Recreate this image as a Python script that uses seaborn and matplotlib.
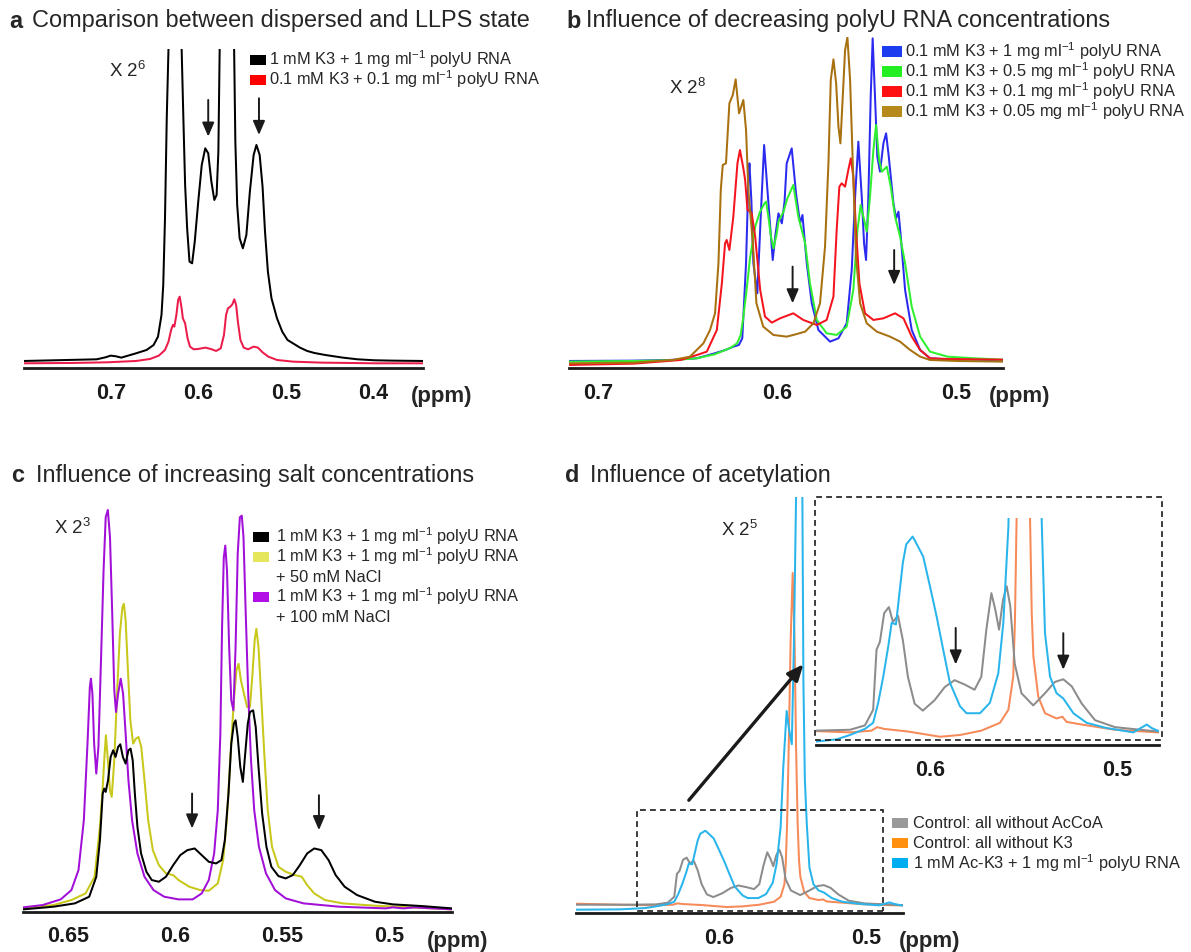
import numpy as np
import matplotlib
matplotlib.use('Agg')
import matplotlib.pyplot as plt
import seaborn as sns
from matplotlib.patches import Rectangle

# spectra: (ppm, intensity a.u.)
a_black = [(0.799, 22), (0.765, 24), (0.716, 27), (0.706, 33), (0.700, 38), (0.694, 36), (0.688, 32), (0.671, 45),
           (0.659, 55), (0.651, 70), (0.646, 95), (0.642, 160), (0.640, 250), (0.638, 450), (0.636, 750), (0.634, 960),
           (0.6265, 3000), (0.619, 960), (0.617, 750), (0.615, 550), (0.6127, 420), (0.610, 320), (0.607, 315),
           (0.604, 380), (0.600, 500), (0.596, 610), (0.592, 660), (0.5886, 645), (0.585, 560), (0.5816, 505),
           (0.579, 520), (0.577, 650), (0.5755, 960), (0.5673, 3000), (0.559, 960), (0.5576, 680), (0.5555, 490),
           (0.5527, 390), (0.549, 360), (0.545, 400), (0.541, 530), (0.5367, 640), (0.5335, 670), (0.5298, 640),
           (0.5265, 545), (0.5237, 410), (0.5204, 290), (0.5163, 210), (0.510, 150), (0.504, 110), (0.498, 85),
           (0.4918, 75), (0.4837, 62), (0.4755, 52), (0.4673, 46), (0.455, 40), (0.4347, 32), (0.418, 27),
           (0.398, 24), (0.3776, 23), (0.343, 22)]
a_red = [(0.799, 15), (0.745, 16), (0.704, 18), (0.671, 22), (0.655, 28), (0.645, 38), (0.638, 55), (0.634, 80),
         (0.631, 115), (0.629, 130), (0.6273, 125), (0.625, 160), (0.623, 205), (0.6212, 215), (0.619, 180),
         (0.6176, 150), (0.615, 135), (0.6122, 90), (0.6094, 65), (0.6053, 57), (0.600, 58), (0.5918, 62),
         (0.5857, 58), (0.5796, 52), (0.5743, 60), (0.5706, 100), (0.5682, 160), (0.566, 180), (0.5633, 185),
         (0.561, 192), (0.5588, 207), (0.5567, 190), (0.5547, 140), (0.5518, 85), (0.548, 62), (0.543, 57),
         (0.5367, 65), (0.5318, 62), (0.5265, 48), (0.520, 35), (0.510, 25), (0.4918, 20), (0.459, 17),
         (0.398, 15), (0.343, 15)]

b_blue = [(0.7164, 22), (0.68, 23), (0.66, 25), (0.645, 30), (0.635, 45), (0.629, 55), (0.6245, 65), (0.6215, 70),
          (0.6196, 90), (0.6175, 315), (0.6162, 565), (0.6156, 615), (0.6145, 500), (0.6134, 315), (0.6112, 225),
          (0.6093, 455), (0.6074, 670), (0.605, 495), (0.6026, 325), (0.6011, 400), (0.5994, 465), (0.5975, 435),
          (0.596, 500), (0.5948, 615), (0.592, 660), (0.5895, 520), (0.5873, 435), (0.586, 460), (0.5836, 315),
          (0.5808, 195), (0.5771, 115), (0.5706, 80), (0.5659, 90), (0.5613, 135), (0.5585, 295), (0.5566, 515),
          (0.5548, 680), (0.5529, 515), (0.5516, 375), (0.5505, 325), (0.5492, 515), (0.5479, 815), (0.5468, 990),
          (0.5455, 815), (0.5442, 635), (0.5427, 590), (0.5408, 675), (0.5393, 705), (0.5378, 635), (0.5352, 495),
          (0.5337, 450), (0.5324, 470), (0.5311, 395), (0.5287, 235), (0.525, 115), (0.5203, 55), (0.5148, 30),
          (0.505, 27), (0.49, 26), (0.4742, 24)]
b_green = [(0.7164, 20), (0.68, 22), (0.66, 24), (0.645, 30), (0.635, 42), (0.629, 55), (0.626, 62), (0.6225, 75),
           (0.6205, 100), (0.6191, 150), (0.6171, 240), (0.6153, 330), (0.6124, 425), (0.6097, 470), (0.6072, 495),
           (0.6063, 500), (0.6049, 450), (0.6036, 395), (0.6022, 360), (0.6005, 400), (0.5994, 440), (0.5966, 470),
           (0.5944, 510), (0.5911, 550), (0.5883, 455), (0.5845, 375), (0.5818, 255), (0.578, 145), (0.5725, 105),
           (0.5669, 100), (0.5613, 125), (0.5576, 235), (0.5553, 415), (0.5535, 490), (0.552, 455), (0.5501, 410),
           (0.5483, 515), (0.5464, 655), (0.5449, 730), (0.5432, 625), (0.5417, 590), (0.5389, 605), (0.5367, 545),
           (0.5343, 455), (0.5315, 395), (0.5287, 315), (0.525, 185), (0.5203, 95), (0.5148, 50), (0.505, 35),
           (0.49, 30), (0.4742, 26)]
b_red = [(0.7164, 10), (0.68, 14), (0.6539, 25), (0.6449, 40), (0.6394, 50), (0.6338, 115), (0.631, 255),
         (0.6292, 375), (0.6283, 385), (0.6268, 355), (0.6246, 455), (0.6223, 615), (0.6209, 655), (0.619, 600),
         (0.618, 565), (0.6167, 475), (0.6144, 467), (0.6124, 395), (0.6096, 235), (0.6069, 155), (0.6031, 137),
         (0.5985, 150), (0.5911, 165), (0.5855, 145), (0.578, 130), (0.5725, 145), (0.5687, 215), (0.5669, 415),
         (0.5654, 545), (0.5641, 555), (0.5622, 545), (0.5604, 595), (0.559, 630), (0.5576, 575), (0.5561, 415),
         (0.5542, 255), (0.5511, 165), (0.5464, 145), (0.5408, 150), (0.5343, 165), (0.5296, 150), (0.525, 95),
         (0.5203, 55), (0.5148, 30), (0.505, 28), (0.49, 27), (0.4742, 26)]
b_brown = [(0.7164, 15), (0.68, 17), (0.6584, 25), (0.6488, 35), (0.6413, 75), (0.6376, 115), (0.6348, 165),
           (0.6329, 315), (0.6316, 535), (0.6305, 610), (0.6287, 615), (0.6268, 795), (0.6249, 820), (0.6233, 867),
           (0.6214, 765), (0.619, 805), (0.6175, 715), (0.6162, 535), (0.6137, 375), (0.6117, 195), (0.6079, 125),
           (0.6022, 100), (0.5948, 95), (0.5911, 100), (0.5845, 110), (0.5799, 135), (0.5762, 195), (0.5734, 365),
           (0.5715, 615), (0.5702, 865), (0.5687, 927), (0.5672, 855), (0.5659, 725), (0.5648, 675), (0.5635, 815),
           (0.5622, 955), (0.5609, 993), (0.5594, 865), (0.5579, 615), (0.5561, 335), (0.5538, 195), (0.5501, 135),
           (0.5445, 110), (0.5371, 95), (0.5315, 80), (0.5259, 55), (0.5203, 35), (0.5148, 25), (0.50, 22),
           (0.4742, 20)]

c_black = [(0.6708, 7), (0.6567, 15), (0.6467, 25), (0.64, 45), (0.6367, 105), (0.635, 215), (0.6337, 355),
           (0.633, 370), (0.6323, 360), (0.6312, 395), (0.630, 465), (0.6288, 485), (0.6277, 465), (0.6265, 495),
           (0.6255, 503), (0.6243, 465), (0.623, 445), (0.6217, 485), (0.6207, 490), (0.6197, 455), (0.6187, 355),
           (0.6175, 255), (0.6158, 175), (0.6133, 120), (0.6108, 95), (0.6075, 90), (0.6042, 105), (0.6008, 140),
           (0.5975, 170), (0.5942, 185), (0.5908, 190), (0.5875, 170), (0.5842, 150), (0.5808, 145), (0.5783, 155),
           (0.5767, 215), (0.575, 355), (0.5737, 505), (0.5725, 565), (0.5717, 575), (0.5707, 525), (0.5695, 435),
           (0.5683, 390), (0.5672, 475), (0.566, 565), (0.565, 600), (0.5635, 605), (0.5623, 555), (0.561, 435),
           (0.5593, 295), (0.5573, 195), (0.555, 135), (0.5517, 107), (0.5483, 100), (0.545, 110), (0.5417, 140),
           (0.5383, 175), (0.535, 190), (0.5317, 185), (0.5283, 155), (0.525, 110), (0.5208, 75), (0.515, 50),
           (0.5067, 30), (0.4983, 22), (0.485, 17), (0.4708, 10)]
c_yellow = [(0.6708, 10), (0.6567, 20), (0.6483, 35), (0.6417, 55), (0.6375, 105), (0.635, 255), (0.6337, 375),
            (0.6328, 475), (0.6322, 530), (0.6313, 455), (0.6303, 365), (0.6295, 345), (0.6283, 455), (0.627, 655),
            (0.6257, 835), (0.6245, 915), (0.6238, 925), (0.623, 875), (0.622, 735), (0.6208, 575), (0.6195, 505),
            (0.6182, 520), (0.617, 525), (0.6157, 495), (0.6142, 395), (0.6125, 275), (0.6103, 185), (0.6075, 140),
            (0.6042, 115), (0.6008, 110), (0.5983, 95), (0.5933, 75), (0.5883, 65), (0.5842, 63), (0.58, 85),
            (0.5775, 155), (0.5758, 275), (0.5742, 455), (0.5725, 635), (0.5713, 725), (0.5703, 745), (0.5692, 695),
            (0.5678, 655), (0.5663, 615), (0.565, 615), (0.5638, 715), (0.5628, 815), (0.562, 850), (0.561, 795),
            (0.5598, 655), (0.5583, 475), (0.5567, 305), (0.5547, 195), (0.5517, 135), (0.5483, 120), (0.5442, 110),
            (0.5408, 105), (0.5383, 80), (0.535, 55), (0.53, 35), (0.5217, 25), (0.5067, 18), (0.49, 13),
            (0.4708, 7)]
c_purple = [(0.6708, 13), (0.6617, 20), (0.6533, 37), (0.6483, 65), (0.645, 125), (0.6425, 275), (0.6408, 505),
            (0.6397, 675), (0.6392, 700), (0.6385, 655), (0.6377, 505), (0.6367, 415), (0.6357, 495), (0.6345, 755),
            (0.6333, 1025), (0.6323, 1185), (0.6313, 1207), (0.6303, 1125), (0.6293, 905), (0.6283, 665),
            (0.6275, 600), (0.6265, 655), (0.6253, 700), (0.6242, 655), (0.623, 535), (0.6217, 395), (0.62, 275),
            (0.6175, 175), (0.6142, 105), (0.61, 65), (0.605, 45), (0.5983, 37), (0.5917, 37), (0.5875, 55),
            (0.5842, 95), (0.5817, 175), (0.58, 305), (0.5788, 535), (0.578, 855), (0.5772, 1065), (0.5765, 1100),
            (0.5757, 1025), (0.5747, 795), (0.5737, 635), (0.5727, 605), (0.5717, 795), (0.5707, 1075),
            (0.5697, 1185), (0.5688, 1190), (0.568, 1125), (0.567, 905), (0.5658, 655), (0.5645, 455), (0.563, 305),
            (0.5608, 195), (0.5575, 115), (0.5533, 65), (0.5483, 40), (0.54, 25), (0.5233, 15), (0.5017, 10),
            (0.4983, 13), (0.4933, 10), (0.4883, 13), (0.4708, 7)]

d_grey = [(0.6973, 25), (0.6611, 25), (0.6428, 26), (0.6348, 31), (0.6304, 49), (0.6286, 118), (0.6268, 127),
          (0.6245, 160), (0.622, 167), (0.6198, 150), (0.6171, 157), (0.6145, 129), (0.6118, 87), (0.6082, 56),
          (0.6038, 48), (0.5975, 60), (0.5921, 75), (0.5868, 83), (0.5814, 78), (0.5761, 72), (0.5725, 87),
          (0.5698, 141), (0.5671, 183), (0.565, 164), (0.563, 141), (0.5609, 175), (0.5589, 191), (0.557, 168),
          (0.5546, 102), (0.551, 68), (0.5447, 54), (0.5384, 68), (0.5331, 81), (0.5286, 84), (0.5241, 76),
          (0.5187, 56), (0.5116, 37), (0.5009, 29), (0.4781, 24), (0.4745, 24)]
d_orange = [(0.6973, 28), (0.6671, 25), (0.6428, 23), (0.6313, 25), (0.6283, 29), (0.6245, 27), (0.6118, 24),
            (0.5946, 18), (0.5839, 20), (0.5725, 25), (0.5625, 34), (0.558, 49), (0.5554, 87), (0.5545, 150),
            (0.5536, 269), (0.5525, 500), (0.5512, 820), (0.5498, 1025), (0.5485, 820), (0.5475, 500),
            (0.5464, 269), (0.5455, 160), (0.5446, 110), (0.542, 64), (0.5384, 45), (0.5322, 39), (0.5291, 41),
            (0.5268, 35), (0.5187, 32), (0.5009, 26), (0.4781, 23), (0.4745, 23)]
d_blue = [(0.6973, 10), (0.6671, 11), (0.65, 15), (0.6428, 20), (0.6348, 27), (0.6304, 34), (0.6277, 57),
          (0.625, 87), (0.6223, 122), (0.6205, 149), (0.6182, 147), (0.6171, 168), (0.6145, 218), (0.6127, 239),
          (0.6093, 248), (0.6082, 244), (0.6036, 225), (0.600, 191), (0.5964, 156), (0.5929, 118), (0.5893, 80),
          (0.5839, 53), (0.5804, 45), (0.5732, 45), (0.5679, 57), (0.5634, 91), (0.5607, 149), (0.5593, 206),
          (0.558, 259), (0.5562, 439), (0.5539, 609), (0.5525, 560), (0.5504, 509), (0.549, 800), (0.5475, 1250),
          (0.5452, 1900), (0.5432, 1250), (0.5425, 700), (0.5415, 400), (0.5402, 269), (0.5384, 137),
          (0.5357, 87), (0.5322, 68), (0.5286, 62), (0.5232, 45), (0.5161, 34), (0.5054, 28), (0.4911, 23),
          (0.4839, 32), (0.4813, 28), (0.4781, 25), (0.4745, 22)]

a_labels = ['1 mM K3 + 1 mg ml$^{-1}$ polyU RNA', '0.1 mM K3 + 0.1 mg ml$^{-1}$ polyU RNA']
b_labels = ['0.1 mM K3 + 1 mg ml$^{-1}$ polyU RNA', '0.1 mM K3 + 0.5 mg ml$^{-1}$ polyU RNA',
            '0.1 mM K3 + 0.1 mg ml$^{-1}$ polyU RNA', '0.1 mM K3 + 0.05 mg ml$^{-1}$ polyU RNA']
c_labels = ['1 mM K3 + 1 mg ml$^{-1}$ polyU RNA', '1 mM K3 + 1 mg ml$^{-1}$ polyU RNA', '+ 50 mM NaCl',
            '1 mM K3 + 1 mg ml$^{-1}$ polyU RNA', '+ 100 mM NaCl']
d_labels = ['Control: all without AcCoA', 'Control: all without K3', '1 mM Ac-K3 + 1 mg ml$^{-1}$ polyU RNA']

sns.set_theme(style='white')
plt.rcParams['font.family'] = ['Liberation Sans', 'DejaVu Sans']
plt.rcParams['mathtext.fontset'] = 'custom'
plt.rcParams['mathtext.rm'] = 'Liberation Sans'
plt.rcParams['mathtext.it'] = 'Liberation Sans:italic'
plt.rcParams['mathtext.bf'] = 'Liberation Sans:bold'
plt.rcParams['mathtext.default'] = 'regular'

W, H = 1191, 952
fig = plt.figure(figsize=(W / 100, H / 100), dpi=100)
LEG_FS = 11.8
TICK_FS = 15.5


def place(x0, x1, ytop, ybot):
    return [x0 / W, 1 - ybot / H, (x1 - x0) / W, (ybot - ytop) / H]


def ftext(x, y, s, **kw):
    fig.text(x / W, 1 - y / H, s, **kw)


def draw(ax, pairs, color, lw=1.45):
    x = [p[0] for p in pairs]
    y = [p[1] for p in pairs]
    sns.lineplot(x=x, y=y, ax=ax, color=color, linewidth=lw, estimator=None)
    ax.lines[-1].set_solid_joinstyle('round')


def style(ax, xlim, ylim, step, labels):
    ax.set_xlim(*xlim)
    ax.set_ylim(*ylim)
    ticks = np.round(np.arange(round(xlim[1] / step + 0.5) * step, xlim[0], step), 3)
    names = []
    for t in ticks:
        hit = [lab for lab in labels if abs(float(lab) - t) < 1e-6]
        names.append(hit[0] if hit else '')
    ax.set_xticks(ticks)
    ax.set_xticklabels(names, fontweight='bold', fontsize=TICK_FS)
    ax.tick_params(axis='x', direction='out', length=4.5, width=1.6, pad=6, color='k', labelcolor='k')
    ax.set_yticks([])
    for s in ['left', 'top', 'right']:
        ax.spines[s].set_visible(False)
    ax.spines['bottom'].set_linewidth(2)
    ax.spines['bottom'].set_color('k')
    ax.set_xlabel('')
    ax.set_ylabel('')
    ax.patch.set_alpha(0)


def arrow(ax, x, y0, y1, lw=1.4, head='-|>,head_length=0.7,head_width=0.3'):
    ax.annotate('', xy=(x, y1), xytext=(x, y0),
                arrowprops=dict(arrowstyle=head, color='k', lw=lw, shrinkA=0, shrinkB=0))


def legend_rows(xp, y0, labels, colors, pw=16, ph=10, dy=20, tx=None):
    if tx is None:
        tx = xp + pw + 4
    for i, (lab, col) in enumerate(zip(labels, colors)):
        y = y0 + i * dy
        if col is not None:
            fig.add_artist(Rectangle((xp / W, 1 - (y + ph / 2) / H), pw / W, ph / H,
                                     transform=fig.transFigure, color=col, lw=0))
        ftext(tx, y + 5.5, lab, fontsize=LEG_FS, va='baseline', ha='left')


def title(xl, xt, yb, letter, text):
    ftext(xl, yb, letter, fontsize=16.9, fontweight='bold', va='baseline')
    ftext(xt, yb, text, fontsize=16.9, va='baseline')


def ppm_label(x, yb):
    ftext(x, yb, '(ppm)', fontsize=16, fontweight='bold', va='baseline')


# ---- a
ax = fig.add_axes(place(24.3, 423.2, 49.3, 368.3))
draw(ax, a_black, '#000000')
draw(ax, a_red, '#ec1c4a')
style(ax, (0.7988, 0.3429), (0, 957), 0.02, ['0.7', '0.6', '0.5', '0.4'])
arrow(ax, 0.5886, 805, 695)
arrow(ax, 0.5306, 810, 700)
title(9, 32, 27.5, 'a', 'Comparison between dispersed and LLPS state')
ftext(109, 77, 'X 2$^6$', fontsize=13.5, va='baseline')
ppm_label(411, 402)
legend_rows(250, 60, a_labels, ['#000000', '#ff0000'], tx=269.3)

# ---- b
ax = fig.add_axes(place(568.9, 1002.7, 36.7, 368.3))
draw(ax, b_blue, '#2b2bf0')
draw(ax, b_green, '#2ef02e')
draw(ax, b_red, '#f5141e')
draw(ax, b_brown, '#a8700f')
style(ax, (0.7164, 0.4742), (0, 995), 0.02, ['0.7', '0.6', '0.5'])
arrow(ax, 0.5915, 305, 195)
arrow(ax, 0.5348, 355, 250)
title(566, 586, 27.5, 'b', 'Influence of decreasing polyU RNA concentrations')
ftext(669, 94, 'X 2$^8$', fontsize=13.5, va='baseline')
ppm_label(989, 402)
legend_rows(882, 51.7, b_labels, ['#1c3cf0', '#22ee22', '#ff1010', '#b5891a'], pw=20, ph=11, tx=905)

# ---- c
ax = fig.add_axes(place(23.2, 451.8, 508.3, 911.7))
draw(ax, c_yellow, '#c8c81a')
draw(ax, c_purple, '#a10fd8')
draw(ax, c_black, '#000000')
style(ax, (0.6708, 0.4708), (0, 1212), 0.01, ['0.65', '0.6', '0.55', '0.5'])
arrow(ax, 0.592, 355, 250)
arrow(ax, 0.5328, 350, 245)
title(10.7, 35.7, 482, 'c', 'Influence of increasing salt concentrations')
ftext(54, 534, 'X 2$^3$', fontsize=13.5, va='baseline')
ppm_label(427, 946.7)
legend_rows(253, 536.7, c_labels, ['#000000', '#e6e65c', None, '#b20fe6', None], tx=275.7)

# ---- d main
ax = fig.add_axes(place(576, 903.3, 496.7, 913))
draw(ax, d_orange, '#f68a58')
draw(ax, d_grey, '#8c8c8c')
draw(ax, d_blue, '#29b5ec')
style(ax, (0.6973, 0.4745), (0, 1255), 0.02, ['0.6', '0.5'])
ax.add_patch(Rectangle((0.4886, 7), 0.6556 - 0.4886, 312 - 7, fill=False, ec='k', lw=1.2,
                       ls=(0, (3.5, 2.5)), clip_on=False, zorder=5))
ax.annotate('', xy=(0.5425, 750), xytext=(0.6205, 340),
            arrowprops=dict(arrowstyle='-|>,head_length=0.8,head_width=0.35', color='k', lw=2.4,
                            shrinkA=0, shrinkB=0), annotation_clip=False)
title(565, 590, 482, 'd', 'Influence of acetylation')
ftext(721, 536, 'X 2$^5$', fontsize=13.5, va='baseline')
ppm_label(899, 946.7)
legend_rows(892.4, 823, d_labels, ['#999999', '#ff9010', '#00aeef'], tx=913.3)

# ---- d inset
axi = fig.add_axes(place(816, 1159.3, 518.3, 745))
draw(axi, d_orange, '#f68a58')
draw(axi, d_grey, '#8c8c8c')
draw(axi, d_blue, '#29b5ec')
style(axi, (0.661, 0.4772), (8.5, 269), 0.02, ['0.6', '0.5'])
arrow(axi, 0.5862, 143, 101)
arrow(axi, 0.5286, 137, 95)
fig.add_artist(Rectangle((815 / W, 1 - 740 / H), (1161.7 - 815) / W, (740 - 497.3) / H,
                         transform=fig.transFigure, fill=False, ec='k', lw=1.2, ls=(0, (3.5, 2.5))))

fig.savefig('out.png', dpi=100)
